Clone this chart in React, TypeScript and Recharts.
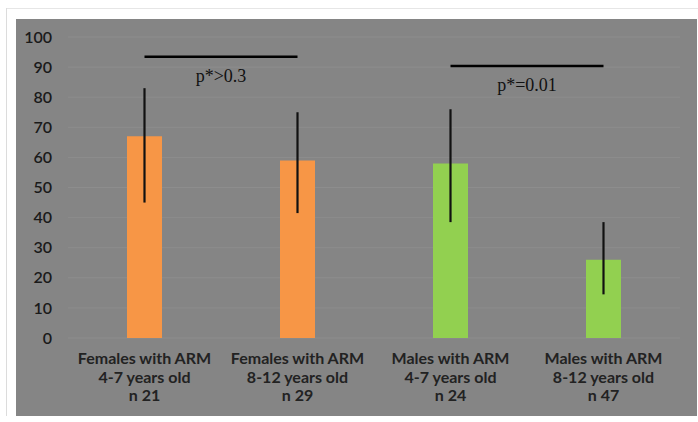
import React from 'react';
import { ComposedChart, Bar, XAxis, YAxis, CartesianGrid, ErrorBar, ReferenceLine, Cell } from 'recharts';

const groups = ['Females with ARM', 'Females with ARM', 'Males with ARM', 'Males with ARM'];
const ages = ['4-7 years old', '8-12 years old', '4-7 years old', '8-12 years old'];
const counts = ['n 21', 'n 29', 'n 24', 'n 47'];
const means = [67, 59, 58, 26];
const lows = [45, 41.5, 38.5, 14.5];
const highs = [83, 75, 76, 38.5];
const colors = ['#f79646', '#f79646', '#92d050', '#92d050'];
const yTicks = [0, 10, 20, 30, 40, 50, 60, 70, 80, 90, 100];
const sig1 = { from: 0, to: 1, y: 93.4, label: 'p*>0.3' };
const sig2 = { from: 2, to: 3, y: 90.4, label: 'p*=0.01' };

const data = means.map((m, i) => ({
  key: `c${i}`,
  idx: i,
  value: m,
  err: [m - lows[i], highs[i] - m],
}));

const XTick = (props: any) => {
  const { x, y, payload } = props;
  const i = payload.index;
  const style = { fontFamily: 'Lato, "Open Sans", sans-serif', fontSize: 16, fontWeight: 700, fill: '#222' };
  return (
    <g>
      <text x={x} y={y + 18} textAnchor="middle" style={style}>{groups[i]}</text>
      <text x={x} y={y + 36.5} textAnchor="middle" style={style}>{ages[i]}</text>
      <text x={x} y={y + 55} textAnchor="middle" style={style}>{counts[i]}</text>
    </g>
  );
};

const sigLabel = (text: string, dy: number) => (props: any) => {
  const vb = props.viewBox || {};
  const cx = (vb.x || 0) + (vb.width || 0) / 2;
  const cy = (vb.y || 0) + dy;
  return (
    <text x={cx} y={cy} textAnchor="middle" style={{ fontFamily: '"Liberation Serif", "DejaVu Serif", serif', fontSize: 18, fill: '#111' }}>
      {text}
    </text>
  );
};

export default function App() {
  return (
    <div style={{ position: 'absolute', left: 0, top: 0, width: 698, height: 422, background: '#ffffff' }}>
      <div style={{ position: 'absolute', left: 6, top: 8, width: 692, height: 1, background: '#e6e6e6' }} />
      <div style={{ position: 'absolute', left: 6, top: 8, width: 1, height: 408, background: '#dcdcdc' }} />
      <div style={{ position: 'absolute', left: 16, top: 19, width: 681, height: 397, background: '#858585' }}>
        <ComposedChart
          width={681}
          height={397}
          data={data}
          margin={{ top: 18, right: 17, bottom: 48, left: 0 }}
        >
          <CartesianGrid vertical={false} stroke="#8d8d8d" strokeWidth={1} />
          <XAxis
            dataKey="key"
            axisLine={false}
            tickLine={false}
            interval={0}
            height={30}
            tick={<XTick />}
          />
          <YAxis
            type="number"
            domain={[0, 100]}
            ticks={yTicks}
            interval={0}
            width={52}
            axisLine={false}
            tickLine={false}
            tickSize={6}
            tickMargin={10}
            tick={{ fontFamily: 'Lato, "Open Sans", sans-serif', fontSize: 16, fontWeight: 600, fill: '#1a1a1a' }}
          />
          <Bar dataKey="value" barSize={35} isAnimationActive={false}>
            {data.map((d, i) => (
              <Cell key={d.key} fill={colors[i]} />
            ))}
            <ErrorBar dataKey="err" width={0} stroke="#111" strokeWidth={2.2} direction="y" />
          </Bar>
          <ReferenceLine
            segment={[{ x: `c${sig1.from}`, y: sig1.y }, { x: `c${sig1.to}`, y: sig1.y }]}
            stroke="#000"
            strokeWidth={2.5}
            label={sigLabel(sig1.label, 25)}
          />
          <ReferenceLine
            segment={[{ x: `c${sig2.from}`, y: sig2.y }, { x: `c${sig2.to}`, y: sig2.y }]}
            stroke="#000"
            strokeWidth={2.5}
            label={sigLabel(sig2.label, 25)}
          />
        </ComposedChart>
      </div>
    </div>
  );
}
